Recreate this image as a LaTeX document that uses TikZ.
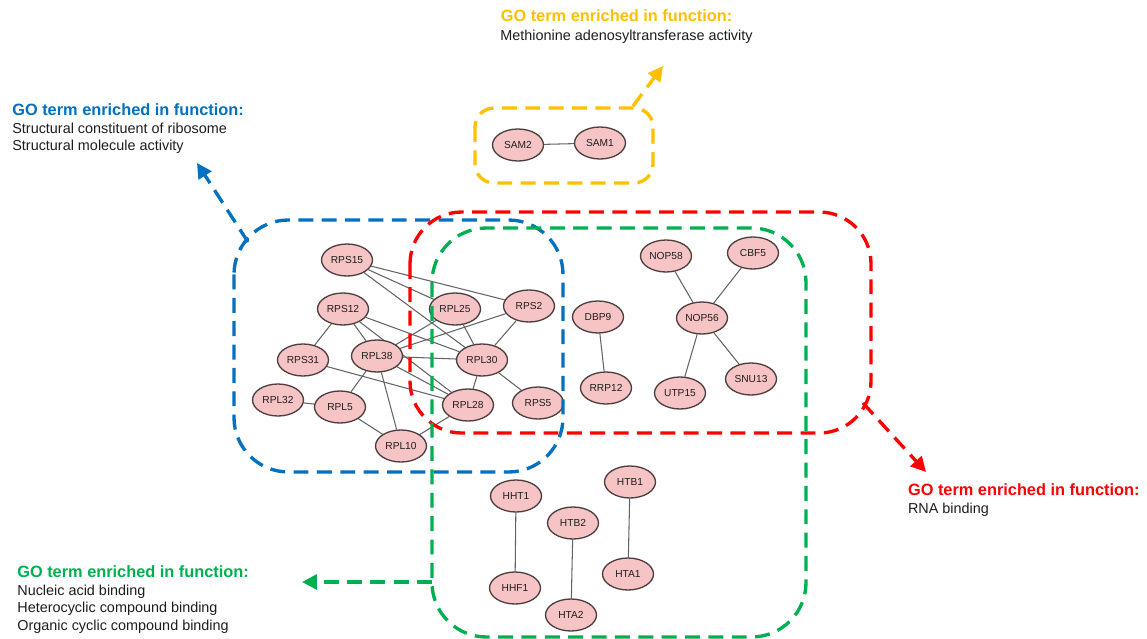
\documentclass[tikz,border=0pt]{standalone}
\usepackage{fontspec}
\setmainfont{Liberation Sans}
\usetikzlibrary{shapes.geometric,arrows.meta}
\definecolor{gblue}{RGB}{0,112,192}
\definecolor{gred}{RGB}{255,0,0}
\definecolor{ggreen}{RGB}{0,176,80}
\definecolor{gyellow}{RGB}{255,192,0}
\definecolor{nodefill}{RGB}{246,196,196}
\definecolor{nodeline}{RGB}{75,62,62}
\definecolor{linkgray}{RGB}{100,100,100}
\definecolor{txtgray}{RGB}{30,30,30}
\pgfdeclarelayer{bgfill}
\pgfdeclarelayer{edges}
\pgfsetlayers{bgfill,edges,main}
\begin{document}
\begin{tikzpicture}[x=0.02cm,y=-0.02cm,
  gene/.style={ellipse, draw=nodeline, line width=0.75pt, fill=nodefill,
    minimum width=1.02cm, minimum height=0.64cm, inner sep=0pt,
    text=txtgray, font=\fontsize{5.8}{6}\selectfont},
  link/.style={draw=linkgray, line width=0.6pt},
  grp/.style={line width=1.9pt, dash pattern=on 8.5pt off 4.8pt},
  garrow/.style={line width=1.9pt, dash pattern=on 8.5pt off 4.8pt,
    -{Triangle[length=8.5pt,width=8.5pt]}},
  gotitle/.style={anchor=base west, inner sep=0pt, font=\bfseries\fontsize{9.3}{11}\selectfont},
  gobody/.style={anchor=base west, inner sep=0pt, text=txtgray, font=\fontsize{8.2}{10}\selectfont}]
\useasboundingbox (0,0) rectangle (1147,639);
\begin{pgfonlayer}{bgfill}
\fill[white] (0,0) rectangle (1147,639);
\end{pgfonlayer}

% ---------- nodes ----------
\node[gene] (RPS15) at (347,260) {RPS15};
\node[gene] (RPS12) at (343,309) {RPS12};
\node[gene] (RPL25) at (455,309) {RPL25};
\node[gene] (RPS2)  at (529,306) {RPS2};
\node[gene] (RPS31) at (303,360) {RPS31};
\node[gene] (RPL38) at (377,356) {RPL38};
\node[gene] (RPL30) at (482,360) {RPL30};
\node[gene] (RPL32) at (278,400) {RPL32};
\node[gene] (RPL5)  at (340,407) {RPL5};
\node[gene] (RPL28) at (468,405) {RPL28};
\node[gene] (RPS5)  at (538,403) {RPS5};
\node[gene] (RPL10) at (401,446) {RPL10};

\node[gene] (NOP58) at (666,256) {NOP58};
\node[gene] (CBF5)  at (753,253) {CBF5};
\node[gene] (DBP9)  at (598,317) {DBP9};
\node[gene] (NOP56) at (702,318) {NOP56};
\node[gene] (RRP12) at (606,388) {RRP12};
\node[gene] (UTP15) at (680,393) {UTP15};
\node[gene] (SNU13) at (751,379) {SNU13};

\node[gene] (HHT1) at (516,496) {HHT1};
\node[gene] (HTB2) at (573,523) {HTB2};
\node[gene] (HTB1) at (630,482) {HTB1};
\node[gene] (HHF1) at (515,588) {HHF1};
\node[gene] (HTA1) at (628,574) {HTA1};
\node[gene] (HTA2) at (571,615) {HTA2};

\node[gene] (SAM2) at (518,145) {SAM2};
\node[gene] (SAM1) at (600,143) {SAM1};

% ---------- edges (behind nodes) ----------
\begin{pgfonlayer}{edges}
\foreach \a/\b in {RPS15/RPS2, RPS15/RPL25, RPS15/RPL30, RPS12/RPS31, RPS12/RPL38,
  RPS12/RPL30, RPS12/RPL28, RPL38/RPL25, RPL38/RPS2, RPL25/RPL30, RPS2/RPL30,
  RPL38/RPL30, RPL38/RPL28, RPS31/RPL28, RPL38/RPL5, RPL38/RPL10, RPL30/RPL28,
  RPL30/RPS5, RPL32/RPL5, RPL5/RPL10, RPL10/RPL28,
  NOP58/NOP56, CBF5/NOP56, DBP9/RRP12, NOP56/UTP15, NOP56/SNU13,
  HHT1/HHF1, HTB2/HTA2, HTB1/HTA1, SAM2/SAM1}
  \draw[link] (\a) -- (\b);
\end{pgfonlayer}

% ---------- group boxes ----------
\draw[grp, gblue, rounded corners=31pt] (234,220) rectangle (563,472);
\draw[grp, gred, rounded corners=29.5pt] (410,212) rectangle (871,433);
\draw[grp, ggreen, rounded corners=31pt] (432,228) rectangle (806,637);
\draw[grp, gyellow, rounded corners=10.8pt] (475,108) rectangle (653,183);

% ---------- labels ----------
\node[gotitle, text=gblue] (tblue) at (12,115) {GO term enriched in function:};
\node[gobody] (bblue1) at (12,133.3) {Structural constituent of ribosome};
\node[gobody] (bblue2) at (12,150.7) {Structural molecule activity};

\node[gotitle, text=gyellow] (tyel) at (500.5,21.7) {GO term enriched in function:};
\node[gobody] (byel) at (500,40.7) {Methionine adenosyltransferase activity};

\node[gotitle, text=gred] (tred) at (907.7,495) {GO term enriched in function:};
\node[gobody] (bred) at (907.7,513.3) {RNA binding};

\node[gotitle, text=ggreen] (tgreen) at (17,577.7) {GO term enriched in function:};
\node[gobody] (bgreen1) at (17,595) {Nucleic acid binding};
\node[gobody] (bgreen2) at (17,612.7) {Heterocyclic compound binding};
\node[gobody] (bgreen3) at (17,630) {Organic cyclic compound binding};

% ---------- arrows ----------
\coordinate (blueA) at (248,242);
\coordinate (blueB) at (197,163);
\coordinate (yelA) at (633,106);
\coordinate (yelB) at (663,66);
\coordinate (redA) at (863,403);
\coordinate (redB) at (926,472);
\coordinate (greenA) at (432,582);
\coordinate (greenB) at (302,582);
\draw[garrow, gblue] (blueA) -- (blueB);
\draw[garrow, gyellow] (yelA) -- (yelB);
\draw[garrow, gred] (redA) -- (redB);
\draw[garrow, ggreen] (greenA) -- (greenB);
\end{tikzpicture}
\end{document}
